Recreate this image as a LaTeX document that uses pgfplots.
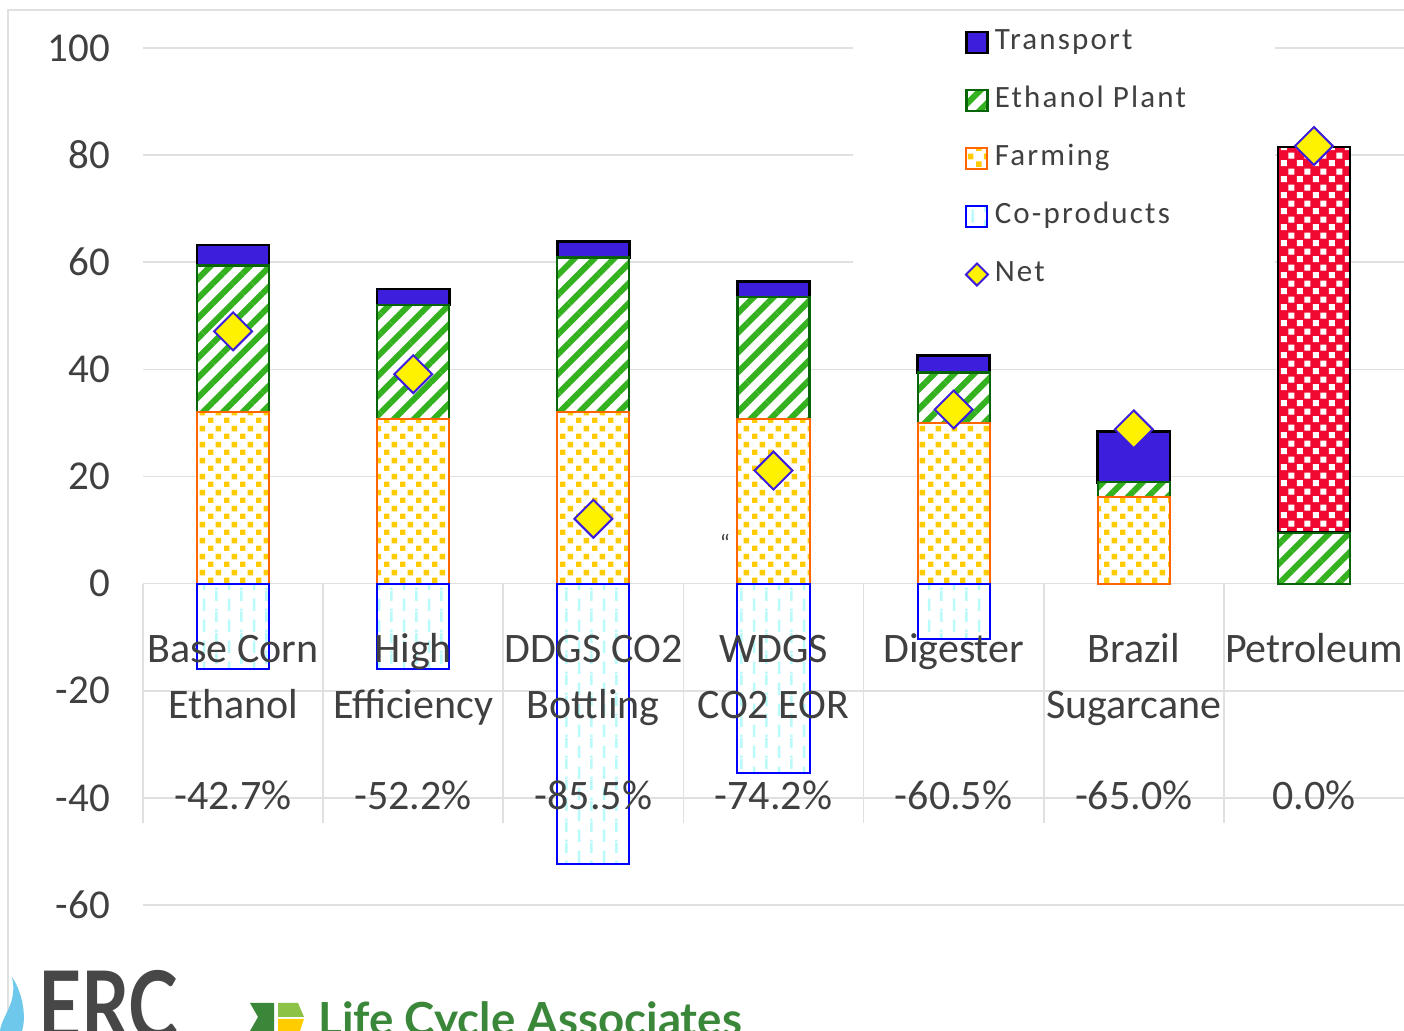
\documentclass[border=0pt]{standalone}
\usepackage{pgfplots}
\pgfplotsset{compat=1.18}
\usetikzlibrary{patterns,patterns.meta}
\usepackage{graphicx}
\usepackage{fontspec}
\setmainfont{Carlito}
\newfontfamily\legfont[LetterSpace=7]{Carlito}
\newfontfamily\logofont{Lato}

\definecolor{tblue}{RGB}{60,30,220}
\definecolor{sgreen}{RGB}{51,177,31}
\definecolor{dgreen}{RGB}{10,100,10}
\definecolor{fyellow}{RGB}{255,204,0}
\definecolor{forange}{RGB}{255,102,0}
\definecolor{pred}{RGB}{240,10,50}
\definecolor{cblue}{RGB}{0,0,255}
\definecolor{ccyan}{RGB}{185,250,250}
\definecolor{txt}{RGB}{64,64,64}
\definecolor{gridc}{RGB}{224,224,224}
\definecolor{lcagreen}{RGB}{58,135,58}
\definecolor{lcalight}{RGB}{140,195,70}
\definecolor{ercblue}{RGB}{110,200,235}

\tikzdeclarepattern{name=farmdots, type=uncolored,
  bottom left={(0pt,0pt)}, top right={(8pt,8pt)}, tile size={(8pt,8pt)},
  code={\fill (0pt,0pt) rectangle (2.9pt,2.9pt); \fill (4pt,4pt) rectangle (6.9pt,6.9pt);}}
\tikzdeclarepattern{name=codash, type=uncolored,
  bottom left={(0pt,0pt)}, top right={(12.6pt,10.5pt)}, tile size={(12.6pt,10.5pt)},
  code={\fill (1pt,0pt) rectangle (2.3pt,6.5pt);
        \fill (7.3pt,5.25pt) rectangle (8.6pt,10.5pt);
        \fill (7.3pt,0pt) rectangle (8.6pt,1.25pt);}}
\tikzdeclarepattern{name=checkw, type=uncolored,
  bottom left={(0pt,0pt)}, top right={(8pt,8pt)}, tile size={(8pt,8pt)},
  code={\fill (0.4pt,0.4pt) rectangle (3.6pt,3.6pt); \fill (4.4pt,4.4pt) rectangle (7.6pt,7.6pt);}}

\tikzset{
  farmst/.style={draw=forange, line width=1pt, preaction={fill=white}, pattern=farmdots, pattern color=fyellow},
  ethst/.style={draw=dgreen, line width=1.1pt, preaction={fill=white}, pattern={Lines[angle=45,distance=7pt,line width=3pt]}, pattern color=sgreen},
  transst/.style={draw=black, line width=1.3pt, fill=tblue},
  petst/.style={draw=black, line width=1.3pt, preaction={fill=pred}, pattern=checkw, pattern color=white},
  costst/.style={draw=cblue, line width=1pt, preaction={fill=white}, pattern=codash, pattern color=ccyan},
}
\pgfplotsset{
  sqlegend/.style={legend image code/.code={\draw[##1] (0pt,-5.25pt) rectangle (10.5pt,5.25pt);}},
  netlegend/.style={legend image code/.code={\draw[mark repeat=2,mark phase=2,##1] plot coordinates {(0pt,0pt)(5.25pt,0pt)(10.5pt,0pt)};}},
  base geom/.style={at={(71.5pt,63pt)}, anchor=south west, scale only axis,
    width=630.5pt, height=428.5pt, xmin=-0.5, xmax=6.5, ymin=-60, ymax=100},
}

\begin{document}
\begin{tikzpicture}
\useasboundingbox (0,0) rectangle (702pt,515.5pt);
\clip (0,0) rectangle (702pt,515.5pt);
% chart frame
\draw[gridc, line width=0.8pt] (4pt,0) -- (4pt,510.5pt) -- (702pt,510.5pt);

\begin{axis}[base geom,
  ytick={-60,-40,...,100}, xtick=\empty,
  ymajorgrids, grid style={gridc, line width=0.8pt},
  axis line style={draw=none}, major tick length=0pt,
  /pgf/number format/assume math mode=true,
  yticklabel style={font=\fontsize{20.5}{24}\selectfont, text=txt, xshift=-13pt},
  ybar stacked, bar width=0.4, clip=false]
\fill[white] (rel axis cs:0.563,1.03) rectangle (rel axis cs:0.898,0.694);
\draw[gridc, line width=0.8pt] (axis cs:-0.5,0) -- (axis cs:-0.5,-44.7);
\draw[gridc, line width=0.8pt] (axis cs:0.5,0) -- (axis cs:0.5,-44.7);
\draw[gridc, line width=0.8pt] (axis cs:1.5,0) -- (axis cs:1.5,-44.7);
\draw[gridc, line width=0.8pt] (axis cs:2.5,0) -- (axis cs:2.5,-44.7);
\draw[gridc, line width=0.8pt] (axis cs:3.5,0) -- (axis cs:3.5,-44.7);
\draw[gridc, line width=0.8pt] (axis cs:4.5,0) -- (axis cs:4.5,-44.7);
\draw[gridc, line width=0.8pt] (axis cs:5.5,0) -- (axis cs:5.5,-44.7);
% Farming
\addplot[farmst] coordinates {(0,32.0) (1,30.8) (2,32.0) (3,30.8) (4,29.9) (5,16.1) (6,0)};
% Ethanol Plant
\addplot[ethst] coordinates {(0,27.4) (1,21.2) (2,28.9) (3,22.7) (4,9.5) (5,2.8) (6,9.5)};
% Transport
\addplot[transst] coordinates {(0,3.8) (1,3.0) (2,3.0) (3,2.9) (4,3.2) (5,9.5) (6,0)};
% Petroleum (crude / combustion)
\addplot[petst] coordinates {(0,0) (1,0) (2,0) (3,0) (4,0) (5,0) (6,72.0)};
\end{axis}

\begin{axis}[base geom, hide axis, clip=false,
  legend cell align=left,
  legend style={at={(0.652,1.0215)}, anchor=north west, draw=none, fill=none,
    inner sep=0pt, outer sep=0pt, row sep=16pt, column sep=3pt,
    font=\legfont\fontsize{15.5}{18}\selectfont, text=txt,
    nodes={inner sep=0pt, text height=10pt, text depth=3pt}}]
\addlegendimage{sqlegend, transst}
\addlegendentry{Transport}
\addlegendimage{sqlegend, ethst}
\addlegendentry{Ethanol Plant}
\addlegendimage{sqlegend, farmst}
\addlegendentry{Farming}
% Co-products
\addplot[ybar, bar width=0.4, bar shift=0pt, costst, sqlegend]
  coordinates {(0,-15.9) (1,-15.9) (2,-52.3) (3,-35.3) (4,-10.3)};
\addlegendentry{Co-products}
% Net
\addplot[only marks, mark=square*, mark size=6.7pt,
  mark options={rotate=45, fill=yellow, draw=tblue, line width=1pt},
  netlegend, legend image post style={mark size=3.9pt}]
  coordinates {(0,47.1) (1,39.1) (2,12.1) (3,21.1) (4,32.5) (5,28.8) (6,81.7)};
\addlegendentry{Net}

\tikzset{cat/.style={anchor=base, font=\fontsize{21}{25}\selectfont, text=txt, inner sep=0pt}}
\node[cat] at (axis cs:0,-14.8) {Base Corn};
\node[cat] at (axis cs:0,-25.2) {Ethanol};
\node[cat] at (axis cs:0,-42.1) {-42.7\%};
\node[cat] at (axis cs:1,-14.8) {High};
\node[cat] at (axis cs:1,-25.2) {Efficiency};
\node[cat] at (axis cs:1,-42.1) {-52.2\%};
\node[cat] at (axis cs:2,-14.8) {DDGS CO2};
\node[cat] at (axis cs:2,-25.2) {Bottling};
\node[cat] at (axis cs:2,-42.1) {-85.5\%};
\node[cat] at (axis cs:3,-14.8) {WDGS};
\node[cat] at (axis cs:3,-25.2) {CO2 EOR};
\node[cat] at (axis cs:3,-42.1) {-74.2\%};
\node[cat] at (axis cs:4,-14.8) {Digester};
\node[cat] at (axis cs:4,-42.1) {-60.5\%};
\node[cat] at (axis cs:5,-14.8) {Brazil};
\node[cat] at (axis cs:5,-25.2) {Sugarcane};
\node[cat] at (axis cs:5,-42.1) {-65.0\%};
\node[cat] at (axis cs:6,-14.8) {Petroleum};
\node[cat] at (axis cs:6,-42.1) {0.0\%};
\node[font=\fontsize{12}{13}\selectfont, text=txt] at (axis cs:2.73,7.6) {``};
\end{axis}

% logos (cropped at the bottom edge)
\fill[ercblue] (0pt,0pt) .. controls (1pt,8pt) and (9pt,14pt) .. (6pt,27pt) .. controls (12pt,18pt) and (13pt,6pt) .. (11pt,0pt) -- cycle;
\node[anchor=base west, inner sep=0pt, text=black!72] at (19pt,-5pt)
  {\scalebox{0.78}[1]{\logofont\bfseries\fontsize{48}{50}\selectfont ERC}};
\fill[lcagreen] (125pt,14pt) -- (137pt,14pt) -- (137pt,0pt) -- (125pt,0pt) -- (129pt,7pt) -- cycle;
\fill[lcalight] (139pt,14pt) -- (149pt,14pt) -- (152pt,7pt) -- (139pt,7pt) -- cycle;
\fill[fyellow] (139pt,6pt) -- (152pt,6pt) -- (150pt,0pt) -- (139pt,0pt) -- cycle;
\node[anchor=base west, inner sep=0pt, text=lcagreen] at (159pt,-2.5pt)
  {\logofont\bfseries\fontsize{22.8}{24}\selectfont Life Cycle Associates};
\end{tikzpicture}
\end{document}
